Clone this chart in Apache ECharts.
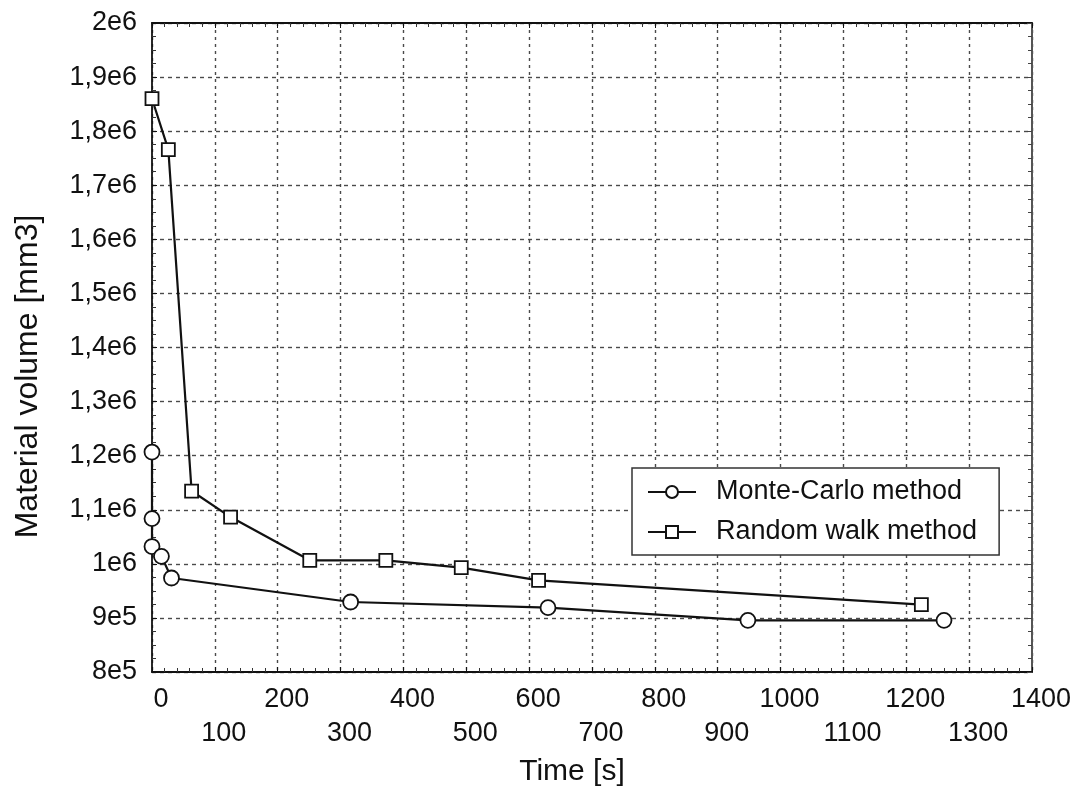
<!DOCTYPE html>
<html>
<head>
<meta charset="utf-8">
<style>html,body{margin:0;padding:0;background:#fff}#c{width:1080px;height:802px}</style>
<script src="https://cdn.jsdelivr.net/npm/echarts@6/dist/echarts.min.js"></script>
</head>
<body>
<div id="c"></div>
<script>
// Data
const mcName = 'Monte-Carlo method';
const mcTime = [0, 0, 0, 15, 31, 316, 630, 948, 1260];
const mcVolume = [1206700, 1083600, 1032000, 1013900, 973800, 929400, 919000, 895500, 895500];

const rwName = 'Random walk method';
const rwTime = [0, 26, 63, 125, 251, 372, 492, 615, 1224];
const rwVolume = [1860000, 1766000, 1134600, 1086500, 1006500, 1006500, 993000, 969500, 924600];

const yTickLabels = ['8e5', '9e5', '1e6', '1,1e6', '1,2e6', '1,3e6', '1,4e6', '1,5e6', '1,6e6', '1,7e6', '1,8e6', '1,9e6', '2e6'];
const xTickLabels = ['0','100','200','300','400','500','600','700','800','900','1000','1100','1200','1300','1400'];

const FONT = '"Liberation Sans", Arial, sans-serif';
const INK = '#111';

const chart = echarts.init(document.getElementById('c'), null, {renderer: 'canvas'});

const frameAxisLine = {show: true, onZero: false, lineStyle: {color: INK, width: 1.8}};

function xLabel(parity) {
  return function (v) {
    const i = Math.round(v / 100);
    return i % 2 === parity ? xTickLabels[i] : '';
  };
}

chart.setOption({
  animation: false,
  backgroundColor: '#fff',
  textStyle: {fontFamily: FONT},
  grid: {left: 152, right: 48, top: 23, bottom: 130, outerBoundsMode: 'none', containLabel: false},
  legend: {
    orient: 'vertical',
    left: 632, top: 468,
    padding: [9, 22, 8, 15],
    itemGap: 10,
    itemWidth: 48, itemHeight: 15,
    borderColor: '#333', borderWidth: 1.5, backgroundColor: '#fff',
    textStyle: {fontFamily: FONT, fontSize: 27, color: INK, lineHeight: 30, padding: [0, 0, 0, 15]},
    data: [mcName, rwName]
  },
  xAxis: [{
    type: 'value', min: 0, max: 1400, interval: 100,
    name: 'Time [s]', nameLocation: 'middle', nameGap: 85,
    nameTextStyle: {fontFamily: FONT, fontSize: 30, color: INK, padding: [0, 40, 0, 0]},
    axisLine: frameAxisLine,
    axisTick: {show: true, inside: true, length: 5, lineStyle: {color: INK}},
    minorTick: {show: true, splitNumber: 5, length: 4, lineStyle: {color: '#333'}},
    axisLabel: {
      margin: 14, fontFamily: FONT, fontSize: 27, color: INK,
      padding: [0, 0, 0, 18],
      showMinLabel: true, showMaxLabel: true, hideOverlap: false,
      formatter: xLabel(0)
    },
    splitLine: {show: true, lineStyle: {color: '#4a4a4a', width: 1.4, type: [3, 4]}}
  }, {
    type: 'value', position: 'top', min: 0, max: 1400, interval: 100,
    axisLine: frameAxisLine,
    axisTick: {show: true, inside: true, length: 5, lineStyle: {color: INK}},
    minorTick: {show: true, splitNumber: 5, length: 4, lineStyle: {color: '#333'}},
    axisLabel: {show: false}, splitLine: {show: false}
  }, {
    type: 'value', position: 'bottom', offset: 34, min: 0, max: 1400, interval: 100,
    axisLine: {show: false}, axisTick: {show: false}, splitLine: {show: false},
    axisLabel: {
      margin: 14, fontFamily: FONT, fontSize: 27, color: INK,
      padding: [0, 0, 0, 18],
      showMinLabel: true, showMaxLabel: true, hideOverlap: false,
      formatter: xLabel(1)
    }
  }],
  yAxis: [{
    type: 'value', min: 800000, max: 2000000, interval: 100000,
    name: 'Material volume [mm3]', nameLocation: 'middle', nameGap: 108, nameRotate: 90,
    nameTextStyle: {fontFamily: FONT, fontSize: 32, color: INK, padding: [0, 58, 0, 0]},
    axisLine: frameAxisLine,
    axisTick: {show: true, inside: true, length: 5, lineStyle: {color: INK}},
    minorTick: {show: true, splitNumber: 4, length: 4, lineStyle: {color: '#333'}},
    axisLabel: {
      margin: 15, fontFamily: FONT, fontSize: 27, color: INK,
      showMinLabel: true, showMaxLabel: true,
      formatter: function (v) { return yTickLabels[Math.round((v - 800000) / 100000)]; }
    },
    splitLine: {show: true, lineStyle: {color: '#4a4a4a', width: 1.4, type: [4, 4]}}
  }, {
    type: 'value', position: 'right', min: 800000, max: 2000000, interval: 100000,
    axisLine: {show: true, onZero: false, lineStyle: {color: '#555', width: 2}},
    axisTick: {show: true, inside: true, length: 5, lineStyle: {color: '#444'}},
    minorTick: {show: true, splitNumber: 4, length: 4, lineStyle: {color: '#444'}},
    axisLabel: {show: false}, splitLine: {show: false}
  }],
  series: [{
    name: mcName, type: 'line',
    data: mcTime.map((t, i) => [t, mcVolume[i]]),
    symbol: 'circle', symbolSize: 15,
    lineStyle: {color: INK, width: 2.2},
    itemStyle: {color: '#fff', borderColor: INK, borderWidth: 1.8},
    z: 3
  }, {
    name: rwName, type: 'line',
    data: rwTime.map((t, i) => [t, rwVolume[i]]),
    symbol: 'rect', symbolSize: 13,
    lineStyle: {color: INK, width: 2.2},
    itemStyle: {color: '#fff', borderColor: INK, borderWidth: 1.8},
    z: 3
  }]
});
</script>
</body>
</html>
